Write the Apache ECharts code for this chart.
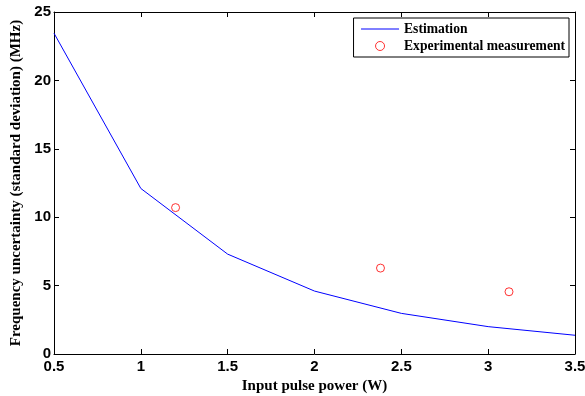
<!DOCTYPE html>
<html><head><meta charset="utf-8">
<script src="https://cdn.jsdelivr.net/npm/echarts@6/dist/echarts.min.js"></script>
<style>html,body{margin:0;padding:0;background:#fff}#c{width:585px;height:396px}</style>
</head><body><div id="c"></div>
<script>
const estX = [0.5, 1.0, 1.5, 2.0, 2.5, 3.0, 3.5];
const estY = [23.45, 12.1, 7.3, 4.6, 2.97, 2.0, 1.37];
const expX = [1.2, 2.38, 3.12];
const expY = [10.7, 6.28, 4.55];
const xTicks = [0.5, 1, 1.5, 2, 2.5, 3, 3.5];
const yTicks = [0, 5, 10, 15, 20, 25];

const chart = echarts.init(document.getElementById('c'));
const tickFont = {fontFamily: 'Liberation Sans', fontWeight: 'bold', fontSize: 15, color: '#000'};
const nameFont = {fontFamily: 'Liberation Serif', fontWeight: 'bold', fontSize: 15, color: '#000'};
const axisCommon = {
  axisLine: {show: true, onZero: false, lineStyle: {color: '#000', width: 1}},
  axisTick: {show: true, inside: true, length: 5, lineStyle: {color: '#000'}},
  splitLine: {show: false}
};
chart.setOption({
  animation: false,
  grid: {left: 54, right: 10, top: 12, bottom: 42, containLabel: false, outerBoundsMode: 'none'},
  legend: {
    right: 16, top: 18, orient: 'vertical',
    borderColor: '#000', borderWidth: 1, backgroundColor: '#fff',
    padding: [4, 4, 4, 7], itemGap: 3, itemWidth: 38, itemHeight: 9,
    textStyle: {fontFamily: 'Liberation Serif', fontWeight: 'bold', fontSize: 13.6, color: '#000'},
    data: [
      {name: 'Estimation', lineStyle: {width: 1}, itemStyle: {color: 'rgba(0,0,0,0)', borderColor: 'rgba(0,0,0,0)', borderWidth: 0, opacity: 0}},
      {name: 'Experimental measurement', icon: 'circle', itemStyle: {borderWidth: 1}}
    ]
  },
  xAxis: [
    Object.assign({type: 'value', min: 0.5, max: 3.5, interval: 0.5, position: 'bottom',
      name: 'Input pulse power (W)', nameLocation: 'middle', nameGap: 20, nameTextStyle: nameFont,
      axisLabel: Object.assign({margin: 5, formatter: v => String(v)}, tickFont)}, axisCommon),
    Object.assign({type: 'value', min: 0.5, max: 3.5, interval: 0.5, position: 'top',
      axisLabel: {show: false}}, axisCommon)
  ],
  yAxis: [
    Object.assign({type: 'value', min: 0, max: 25, interval: 5, position: 'left',
      name: 'Frequency uncertainty (standard deviation) (MHz)', nameLocation: 'middle', nameGap: 22, nameTextStyle: nameFont,
      axisLabel: Object.assign({margin: 3}, tickFont)}, axisCommon),
    Object.assign({type: 'value', min: 0, max: 25, interval: 5, position: 'right',
      axisLabel: {show: false}}, axisCommon)
  ],
  series: [
    {name: 'Estimation', type: 'line', data: estX.map((x, i) => [x, estY[i]]),
      symbol: 'none', lineStyle: {color: '#0000ff', width: 1}, itemStyle: {color: '#0000ff'}},
    {name: 'Experimental measurement', type: 'scatter', data: expX.map((x, i) => [x, expY[i]]),
      symbol: 'circle', symbolSize: 8,
      itemStyle: {color: '#ffffff', borderColor: '#ff0000', borderWidth: 1}}
  ]
});
</script></body></html>
